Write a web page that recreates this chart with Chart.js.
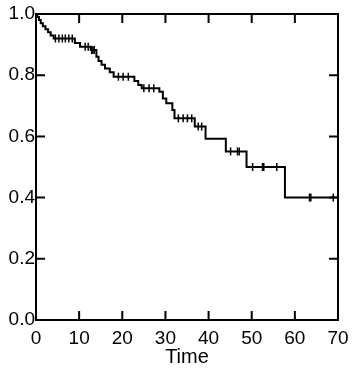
<!DOCTYPE html>
<html>
<head>
<meta charset="utf-8">
<script src="https://cdn.jsdelivr.net/npm/chart.js@4"></script>
<style>
  body { margin: 0; background: #fff; }
  #wrap { width: 363px; height: 382px; position: relative; }
</style>
</head>
<body>
<div id="wrap"><canvas id="kmChart"></canvas></div>
<script>
// Kaplan-Meier steps: time of event and survival just after it
const eventTimes = [0, 0.3, 0.7, 1.1, 1.6, 2.2, 2.8, 3.4, 4.1, 9.0, 10.2, 12.7, 14.0, 14.5, 15.2, 16.0, 17.1, 18.0,
    22.8, 23.7, 24.5, 28.6, 29.4, 30.2, 31.6, 32.1, 36.8, 39.3, 44.0, 48.8, 57.7, 70];
const survival = [1.0, 0.99, 0.98, 0.97, 0.96, 0.95, 0.94, 0.93, 0.92, 0.905, 0.893, 0.882, 0.86, 0.846, 0.834, 0.822, 0.81, 0.795,
    0.781, 0.768, 0.757, 0.746, 0.724, 0.708, 0.686, 0.659, 0.632, 0.592, 0.551, 0.50, 0.40, 0.40];

// censored observations (tick marks)
const censorTimes = [4.5, 5.3, 6.1, 6.8, 7.6, 8.4, 11.4, 12.1, 12.9, 13.2, 13.5, 19.1, 20.2, 21.4, 25.0, 26.2, 27.3,
    33.0, 34.1, 35.1, 36.1, 37.6, 38.4, 45.1, 46.7, 47.1, 50.2, 52.5, 52.8, 55.8, 63.4, 63.7, 68.9];
const censorSurv = [0.92, 0.92, 0.92, 0.92, 0.92, 0.92, 0.893, 0.893, 0.882, 0.882, 0.882, 0.795, 0.795, 0.795, 0.757, 0.757, 0.757,
    0.659, 0.659, 0.659, 0.659, 0.632, 0.632, 0.551, 0.551, 0.551, 0.50, 0.50, 0.50, 0.50, 0.40, 0.40, 0.40];

const xTicks = [0, 10, 20, 30, 40, 50, 60, 70];
const yTicks = [0, 0.2, 0.4, 0.6, 0.8, 1.0];

const fonte = { family: 'Liberation Sans', size: 19 };

// moldura + marcas para dentro nos quatro lados
const molduraPlugin = {
    id: 'moldura',
    afterDraw(chart) {
        const { ctx, chartArea: a, scales } = chart;
        const tl = 9;
        ctx.save();
        ctx.strokeStyle = '#000';
        ctx.lineWidth = 2;
        ctx.strokeRect(a.left, a.top, a.right - a.left, a.bottom - a.top);
        ctx.beginPath();
        xTicks.forEach(v => {
            const px = scales.x.getPixelForValue(v);
            ctx.moveTo(px, a.bottom); ctx.lineTo(px, a.bottom - tl);
            ctx.moveTo(px, a.top); ctx.lineTo(px, a.top + tl);
        });
        yTicks.forEach(v => {
            const py = scales.y.getPixelForValue(v);
            ctx.moveTo(a.left, py); ctx.lineTo(a.left + tl, py);
            ctx.moveTo(a.right, py); ctx.lineTo(a.right - tl, py);
        });
        ctx.stroke();
        ctx.restore();
    }
};

const ctx = document.getElementById('kmChart').getContext('2d');
const grafico = new Chart(ctx, {
    type: 'line',
    data: {
        datasets: [{
            data: eventTimes.map((t, i) => ({ x: t, y: survival[i] })),
            borderColor: '#000',
            borderWidth: 2,
            stepped: true,
            pointRadius: 0,
            fill: false
        }, {
            type: 'scatter',
            data: censorTimes.map((t, i) => ({ x: t, y: censorSurv[i] })),
            pointStyle: 'line',
            rotation: 90,
            radius: 4,
            borderColor: '#000',
            borderWidth: 1.5,
            showLine: false
        }]
    },
    options: {
        responsive: true,
        maintainAspectRatio: false,
        animation: false,
        layout: { padding: { top: 14, right: 25, left: 0, bottom: 0 } },
        plugins: {
            legend: { display: false },
            tooltip: { enabled: false }
        },
        scales: {
            x: {
                type: 'linear',
                min: 0,
                max: 70,
                afterBuildTicks: s => { s.ticks = xTicks.map(v => ({ value: v })); },
                grid: { display: false, drawTicks: false },
                border: { display: false },
                ticks: { color: '#000', font: fonte, padding: 7, maxRotation: 0 },
                title: { display: true, text: 'Time', color: '#000', font: { family: 'Liberation Sans', size: 20 }, padding: { top: 0, bottom: 13 } },
                afterFit: s => { s.height = 62; }
            },
            y: {
                min: 0,
                max: 1,
                afterBuildTicks: s => { s.ticks = yTicks.map(v => ({ value: v })); },
                grid: { display: false, drawTicks: false },
                border: { display: false },
                ticks: { color: '#000', font: fonte, padding: 1, callback: v => v.toFixed(1) },
                afterFit: s => { s.width = 36; }
            }
        }
    },
    plugins: [molduraPlugin]
});
</script>
</body>
</html>
